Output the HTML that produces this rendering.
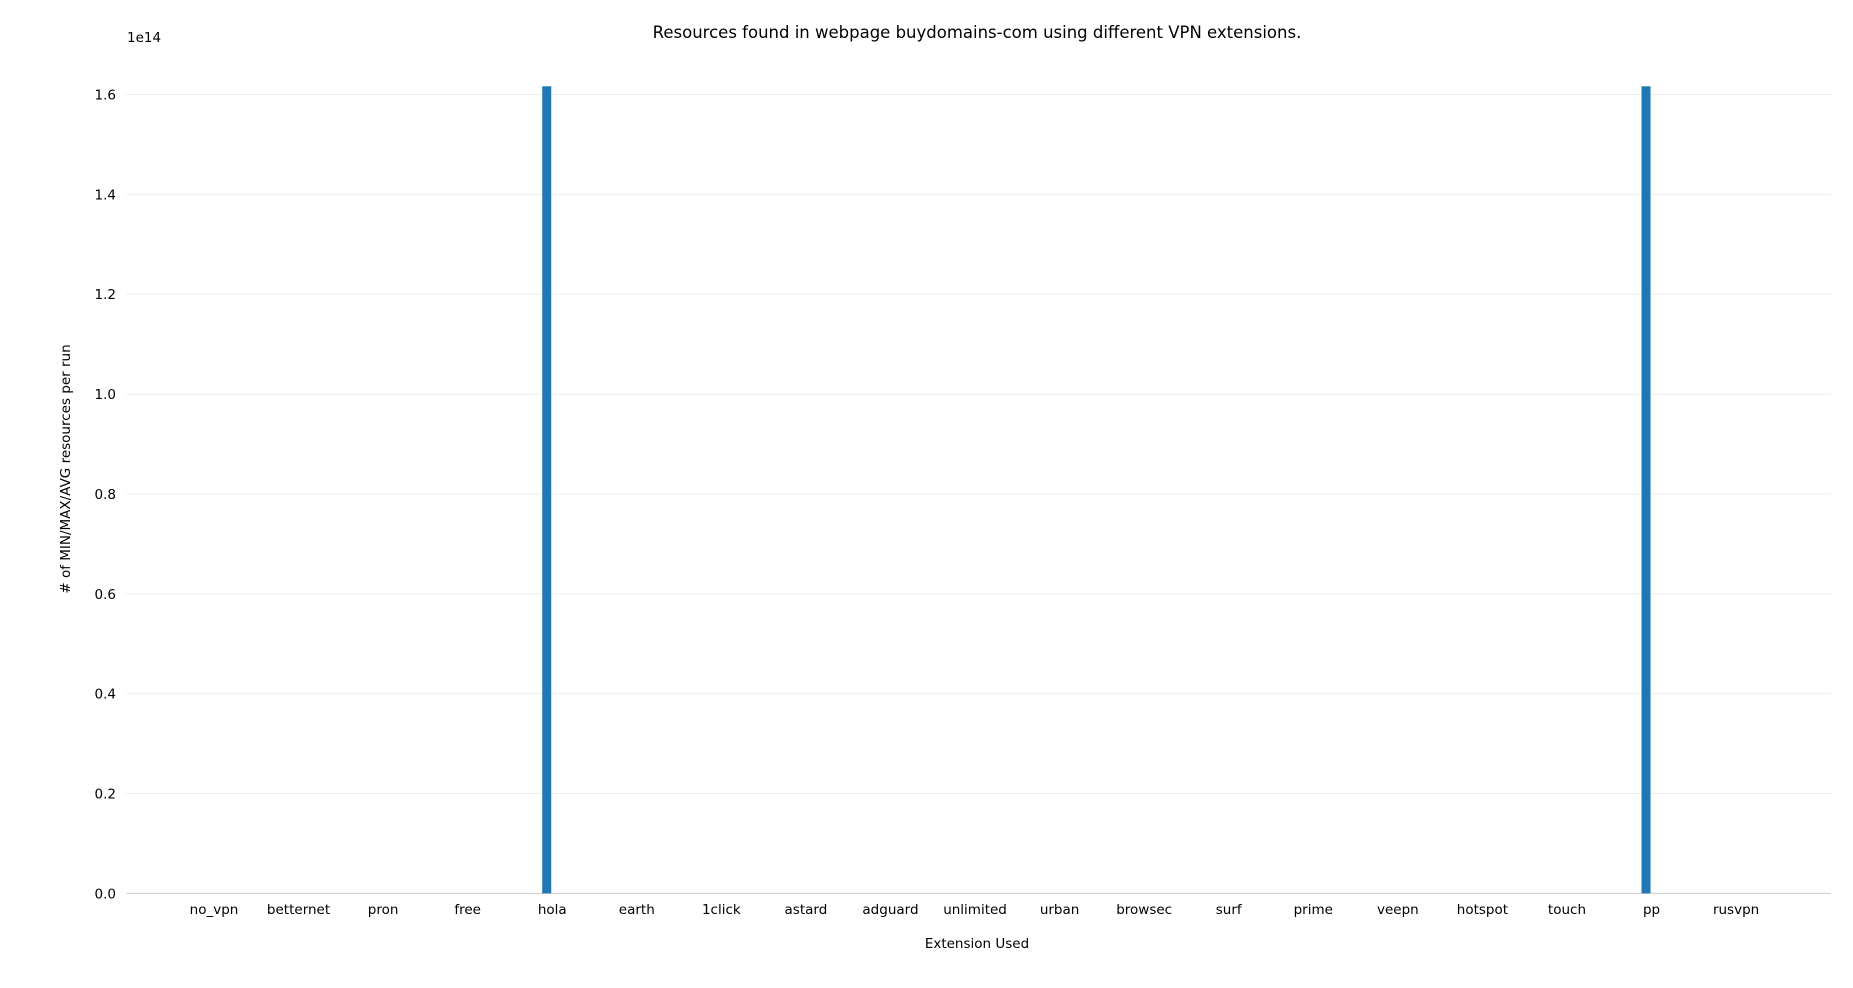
<!DOCTYPE html>
<html><head><meta charset="utf-8"><style>
html,body{margin:0;padding:0;background:#fff;}
svg text{font-family:"DejaVu Sans","Liberation Sans",sans-serif;fill:#000;}
</style></head><body>
<svg id="chart" width="1853" height="983">
<text x="977" y="38" text-anchor="middle" font-size="16.5">Resources found in webpage buydomains-com using different VPN extensions.</text>
<text x="127" y="42" font-size="13.5">1e14</text>
<text transform="translate(70,469) rotate(-90)" text-anchor="middle" font-size="13.5"># of MIN/MAX/AVG resources per run</text>
<text x="977" y="948" text-anchor="middle" font-size="13.5">Extension Used</text>
<g id="grid"></g><g id="bars"></g><g id="xt"></g>
</svg>
<script>
const categories=["no_vpn","betternet","pron","free","hola","earth","1click","astard","adguard","unlimited","urban","browsec","surf","prime","veepn","hotspot","touch","pp","rusvpn"];
const values=[0,0,0,0,1.6164,0,0,0,0,0,0,0,0,0,0,0,0,1.6164,0];
const yTicks=[0,0.2,0.4,0.6,0.8,1.0,1.2,1.4,1.6];
const NS="http://www.w3.org/2000/svg";
const x0=126.5,x1=1831,y0=893.4,yTop=94.5;
const yS=v=>y0-(v/1.6)*(y0-yTop);
const xS=i=>214+i*84.56;
const grid=document.getElementById('grid');
yTicks.forEach(t=>{
 const l=document.createElementNS(NS,'line');
 l.setAttribute('x1',x0);l.setAttribute('x2',x1);l.setAttribute('y1',yS(t));l.setAttribute('y2',yS(t));
 l.setAttribute('stroke',t===0?'#ccc':'#ebebeb');l.setAttribute('stroke-width','1');
 
 
 grid.appendChild(l);
 const tx=document.createElementNS(NS,'text');
 tx.setAttribute('x',116);tx.setAttribute('y',yS(t)+5);tx.setAttribute('text-anchor','end');tx.setAttribute('font-size','13.5');
 tx.textContent=t.toFixed(1);
 
 
 grid.appendChild(tx);
});
const bars=document.getElementById('bars');
values.forEach((v,i)=>{
 if(v<=0)return;
 const r=document.createElementNS(NS,'rect');
 r.setAttribute('x',xS(i)-10);r.setAttribute('width',9);
 r.setAttribute('y',yS(v));r.setAttribute('height',y0-yS(v));
 r.setAttribute('fill','#1f77b4');
 
 
 bars.appendChild(r);
});
const xt=document.getElementById('xt');
categories.forEach((c,i)=>{
 const tx=document.createElementNS(NS,'text');
 tx.setAttribute('x',xS(i));tx.setAttribute('y',914);tx.setAttribute('text-anchor','middle');tx.setAttribute('font-size','13.5');
 tx.textContent=c;
 
 
 xt.appendChild(tx);
});
</script>
</body></html>
